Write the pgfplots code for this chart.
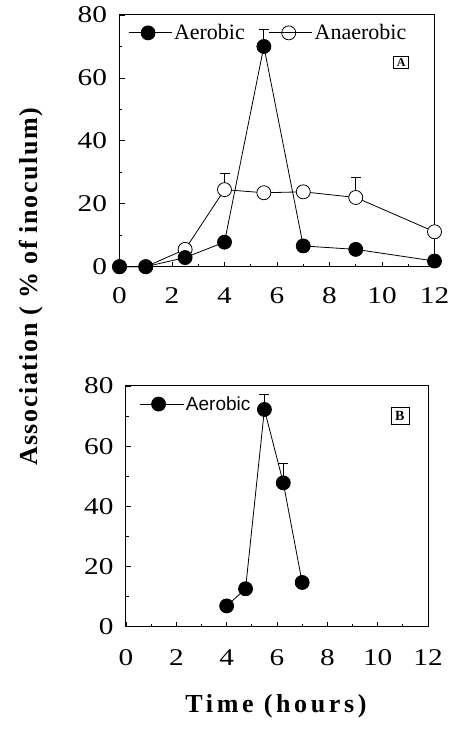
\documentclass[border=0pt]{standalone}
\usepackage{pgfplots}
\pgfplotsset{compat=1.18}
\usepackage{fontspec}
\setmainfont{Liberation Serif}
\setsansfont{Liberation Sans}
\newfontfamily\ylabfont[LetterSpace=6]{Liberation Serif}
\newfontfamily\xlabfont[LetterSpace=14]{Liberation Serif}
\newfontfamily\tickfont[FakeStretch=1.22]{Liberation Serif}
\begin{document}
\begin{tikzpicture}
\path[use as bounding box] (0pt,0pt) rectangle (448pt,740pt);
\pgfplotsset{
  panel/.style={
    scale only axis, anchor=south west,
    xmin=0, xmax=12, ymin=0, ymax=80,
    xtick={0,2,...,12}, ytick={0,20,...,80},
    minor x tick num=1, minor y tick num=1,
    xtick pos=left, ytick pos=left,
    tick align=inside,
    major tick length=5pt, minor tick length=3pt,
    axis line style={line width=1pt},
    every tick/.style={black, line width=0.8pt},
    /pgf/number format/assume math mode=true,
    tick label style={font=\tickfont\fontsize{24}{26}\selectfont},
    clip=false,
  },
  filled/.style={black, line width=0.8pt, mark=*, mark size=7pt, mark options={fill=black, solid}},
  open/.style={black, line width=0.8pt, mark=*, mark size=7pt, mark options={fill=white, draw=black, line width=0.8pt, solid}},
  ebar/.style={draw=none, no marks, forget plot,
    error bars/.cd, y dir=plus, y explicit,
    error bar style={black, line width=0.8pt},
    error mark options={rotate=90, mark size=5pt, line width=0.8pt}},
}
% Panel A
\begin{axis}[panel, at={(119.5pt,473.3pt)}, width=315pt, height=251.7pt,
  xticklabel style={yshift=-17pt}, yticklabel style={xshift=-9pt},
  legend style={draw=none, fill=none, at={(0.027,0.929)}, anchor=west,
    font=\fontsize{22}{24}\selectfont, legend columns=2,
    /tikz/every even column/.append style={column sep=22pt},
    inner sep=0pt, cells={anchor=west}},
  legend image code/.code={\draw[#1] (0pt,0pt) -- (39pt,0pt); \draw[#1, only marks] plot coordinates {(19.5pt,0pt)}; \path (0pt,0pt) -- (43pt,0pt);},
  ]
\addlegendimage{filled}
\addlegendentry{Aerobic}
\addlegendimage{open}
\addlegendentry{Anaerobic}
\addplot[ebar] table[x=x, y=y, y error=e] {
x y e
5.5 70 5.5
};
\addplot[ebar] table[x=x, y=y, y error=e] {
x y e
4 24.5 5
9 22 6.5
};
\addplot[open, forget plot] table {
x y
0 0
1 0
2.5 5.5
4 24.5
5.5 23.5
7 23.8
9 22
12 11.1
};
\addplot[filled, forget plot] table {
x y
0 0
1 0
2.5 2.9
4 7.8
5.5 70
7 6.6
9 5.5
12 1.8
};
\node[draw, line width=0.8pt, inner sep=1pt, minimum width=15pt, minimum height=12pt, font=\bfseries\fontsize{12}{12}\selectfont] at (rel axis cs:0.894,0.811) {A};
\end{axis}
% Panel B
\begin{axis}[panel, at={(126pt,113.3pt)}, width=302pt, height=240.7pt,
  xticklabel style={yshift=-19pt}, yticklabel style={xshift=-9pt},
  legend style={draw=none, fill=none, at={(0.043,0.925)}, anchor=west,
    font=\sffamily\fontsize{19}{21}\selectfont,
    inner sep=0pt, cells={anchor=west}},
  legend image code/.code={\draw[#1] (0pt,0pt) -- (38pt,0pt); \draw[#1, only marks] plot coordinates {(19pt,0pt)}; \path (0pt,0pt) -- (44pt,0pt);},
  ]
\addlegendimage{filled}
\addlegendentry{Aerobic}
\addplot[ebar] table[x=x, y=y, y error=e] {
x y e
5.5 72.2 5
6.25 47.8 6.5
};
\addplot[filled, forget plot] table {
x y
4 6.9
4.75 12.6
5.5 72.2
6.25 47.8
7 14.7
};
\node[draw, line width=0.8pt, inner sep=1pt, minimum width=18pt, minimum height=17pt, font=\bfseries\fontsize{14}{14}\selectfont] at (rel axis cs:0.907,0.875) {B};
\end{axis}
\node[rotate=90, font=\ylabfont\bfseries\fontsize{26}{28}\selectfont] at (31pt,453pt) {Association ( \% of inoculum)};
\node[font=\xlabfont\bfseries\fontsize{26}{28}\selectfont] at (276pt,34pt) {Time (hours)};
\end{tikzpicture}
\end{document}
